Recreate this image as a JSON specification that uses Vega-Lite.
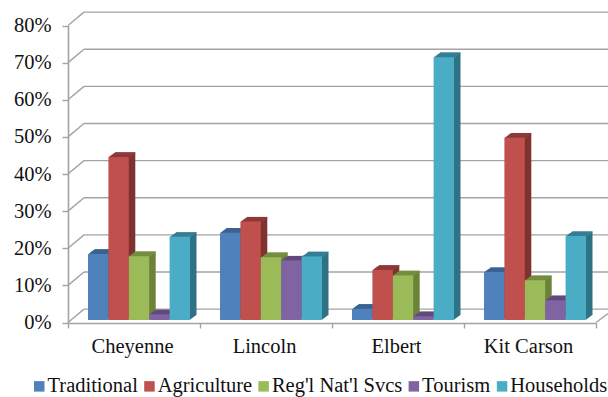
{
"$schema":"https://vega.github.io/schema/vega-lite/v6.json",
"width":608,"height":397,"padding":0,"autosize":{"type":"none"},"background":"#ffffff",
"config":{"view":{"stroke":null},"font":"Liberation Serif"},
"datasets":{
"shares":[
{"county":"Cheyenne","sector":"Traditional","share":17.8},{"county":"Cheyenne","sector":"Agriculture","share":43.9},{"county":"Cheyenne","sector":"Reg'l Nat'l Svcs","share":17.2},{"county":"Cheyenne","sector":"Tourism","share":1.5},{"county":"Cheyenne","sector":"Households","share":22.4},
{"county":"Lincoln","sector":"Traditional","share":23.5},{"county":"Lincoln","sector":"Agriculture","share":26.5},{"county":"Lincoln","sector":"Reg'l Nat'l Svcs","share":16.9},{"county":"Lincoln","sector":"Tourism","share":16},{"county":"Lincoln","sector":"Households","share":17.1},
{"county":"Elbert","sector":"Traditional","share":3},{"county":"Elbert","sector":"Agriculture","share":13.5},{"county":"Elbert","sector":"Reg'l Nat'l Svcs","share":12},{"county":"Elbert","sector":"Tourism","share":1},{"county":"Elbert","sector":"Households","share":70.8},
{"county":"Kit Carson","sector":"Traditional","share":12.9},{"county":"Kit Carson","sector":"Agriculture","share":49.1},{"county":"Kit Carson","sector":"Reg'l Nat'l Svcs","share":10.7},{"county":"Kit Carson","sector":"Tourism","share":5.3},{"county":"Kit Carson","sector":"Households","share":22.6}
],
"tiers":[{"tier":0,"lift":3.6},{"tier":10,"lift":13.6},{"tier":20,"lift":23.6},{"tier":30,"lift":33.6},{"tier":40,"lift":43.6},{"tier":50,"lift":53.6},{"tier":60,"lift":63.6},{"tier":70,"lift":73.6},{"tier":80,"lift":83.6}]
},
"resolve":{"scale":{"x":"independent","y":"independent","color":"independent"},"axis":{"x":"independent","y":"independent"}},
"layer":[
{"data":{"name":"tiers"},"mark":{"type":"rule","color":"#a3a3a3","strokeWidth":1.4},
 "encoding":{"x":{"datum":0,"type":"quantitative","scale":{"domain":[0,540],"range":[68,608]},"axis":null},"x2":{"datum":16},
 "y":{"field":"tier","type":"quantitative","scale":{"domain":[0,80],"range":[322.5,25.5]},
  "axis":{"orient":"left","offset":-68,"title":null,"values":[0,10,20,30,40,50,60,70,80],"labelExpr":"datum.value+'%'","grid":false,"domainColor":"#a3a3a3","domainWidth":1.6,"tickColor":"#a3a3a3","tickWidth":1.4,"tickSize":6,"labelFontSize":20.5,"labelColor":"#111111","labelPadding":11,"labelFont":"Liberation Serif"}},
 "y2":{"field":"lift"}}},
{"data":{"name":"tiers"},"mark":{"type":"rule","color":"#a3a3a3","strokeWidth":1.4},
 "encoding":{"x":{"datum":16,"type":"quantitative","scale":{"domain":[0,540],"range":[68,608]},"axis":null},"x2":{"datum":540},
 "y":{"field":"lift","type":"quantitative","scale":{"domain":[0,80],"range":[322.5,25.5]},"axis":null}}},
{"data":{"values":[{"a":0,"b":2.4}]},"mark":{"type":"rule","color":"#a3a3a3","strokeWidth":1.4},
 "encoding":{"x":{"datum":528,"type":"quantitative","scale":{"domain":[0,540],"range":[68,608]},"axis":null},"x2":{"datum":540},
 "y":{"field":"a","type":"quantitative","scale":{"domain":[0,80],"range":[322.5,25.5]},"axis":null},"y2":{"field":"b"}}},
{"data":{"name":"shares"},"mark":{"type":"bar","opacity":0},
 "encoding":{"x":{"field":"county","type":"nominal","sort":null,"scale":{"domain":["Cheyenne","Lincoln","Elbert","Kit Carson"],"range":[68,596],"paddingInner":0,"paddingOuter":0},
  "axis":{"orient":"bottom","offset":-74,"title":null,"tickBand":"extent","labelAngle":0,"labelOffset":-2,"domainColor":"#a3a3a3","domainWidth":1.6,"tickColor":"#a3a3a3","tickWidth":1.4,"tickSize":5,"labelFontSize":20.5,"labelColor":"#111111","labelPadding":8,"labelFont":"Liberation Serif"}},
 "y":{"datum":0,"type":"quantitative","scale":{"domain":[0,80],"range":[322.5,25.5]},"axis":null}}},

{"data":{"name":"shares"},"encoding":{
 "xOffset":{"field":"sector","type":"nominal","sort":null,"scale":{"domain":["Traditional","Agriculture","Reg'l Nat'l Svcs","Tourism","Households"],"range":[20,122]}}},
 "resolve":{"scale":{"x":"independent","y":"independent","color":"independent"},"axis":{"x":"independent","y":"independent"}},
 "layer":[
 {"mark":{"type":"bar"},"encoding":{
  "x":{"field":"county","type":"nominal","sort":null,"scale":{"domain":["Cheyenne","Lincoln","Elbert","Kit Carson"],"range":[74.5,602.5],"paddingInner":0,"paddingOuter":0},"axis":null},
  "y":{"field":"share","type":"quantitative","stack":null,"scale":{"domain":[0,80],"range":[315.3,18.3]},"axis":null},
  "color":{"field":"sector","type":"nominal","sort":null,"legend":null,"scale":{"domain":["Traditional","Agriculture","Reg'l Nat'l Svcs","Tourism","Households"],"range":["#385d8a","#7f3230","#6b8339","#594573","#2f7286"]}}}},
 {"mark":{"type":"tick","orient":"horizontal","size":20.4,"thickness":1.5,"yOffset":0.7},"encoding":{
  "x":{"field":"county","type":"nominal","sort":null,"scale":{"domain":["Cheyenne","Lincoln","Elbert","Kit Carson"],"range":[74.5,602.5],"paddingInner":0,"paddingOuter":0},"axis":null},
  "y":{"field":"share","type":"quantitative","stack":null,"scale":{"domain":[0,80],"range":[315.3,18.3]},"axis":null},
  "color":{"field":"sector","type":"nominal","sort":null,"legend":null,"scale":{"domain":["Traditional","Agriculture","Reg'l Nat'l Svcs","Tourism","Households"],"range":["#3e6797","#963f3c","#7a9546","#664f82","#3a889e"]}}}},
 {"mark":{"type":"bar"},"encoding":{
  "x":{"field":"county","type":"nominal","sort":null,"scale":{"domain":["Cheyenne","Lincoln","Elbert","Kit Carson"],"range":[73.4,601.4],"paddingInner":0,"paddingOuter":0},"axis":null},
  "y":{"field":"share","type":"quantitative","stack":null,"scale":{"domain":[0,80],"range":[316.1,19.1]},"axis":null},
  "color":{"field":"sector","type":"nominal","sort":null,"legend":null,"scale":{"domain":["Traditional","Agriculture","Reg'l Nat'l Svcs","Tourism","Households"],"range":["#385d8a","#7f3230","#6b8339","#594573","#2f7286"]}}}},
 {"mark":{"type":"tick","orient":"horizontal","size":20.4,"thickness":1.5,"yOffset":0.7},"encoding":{
  "x":{"field":"county","type":"nominal","sort":null,"scale":{"domain":["Cheyenne","Lincoln","Elbert","Kit Carson"],"range":[73.4,601.4],"paddingInner":0,"paddingOuter":0},"axis":null},
  "y":{"field":"share","type":"quantitative","stack":null,"scale":{"domain":[0,80],"range":[316.1,19.1]},"axis":null},
  "color":{"field":"sector","type":"nominal","sort":null,"legend":null,"scale":{"domain":["Traditional","Agriculture","Reg'l Nat'l Svcs","Tourism","Households"],"range":["#3e6797","#963f3c","#7a9546","#664f82","#3a889e"]}}}},
 {"mark":{"type":"bar"},"encoding":{
  "x":{"field":"county","type":"nominal","sort":null,"scale":{"domain":["Cheyenne","Lincoln","Elbert","Kit Carson"],"range":[72.3,600.3],"paddingInner":0,"paddingOuter":0},"axis":null},
  "y":{"field":"share","type":"quantitative","stack":null,"scale":{"domain":[0,80],"range":[316.9,19.9]},"axis":null},
  "color":{"field":"sector","type":"nominal","sort":null,"legend":null,"scale":{"domain":["Traditional","Agriculture","Reg'l Nat'l Svcs","Tourism","Households"],"range":["#385d8a","#7f3230","#6b8339","#594573","#2f7286"]}}}},
 {"mark":{"type":"tick","orient":"horizontal","size":20.4,"thickness":1.5,"yOffset":0.7},"encoding":{
  "x":{"field":"county","type":"nominal","sort":null,"scale":{"domain":["Cheyenne","Lincoln","Elbert","Kit Carson"],"range":[72.3,600.3],"paddingInner":0,"paddingOuter":0},"axis":null},
  "y":{"field":"share","type":"quantitative","stack":null,"scale":{"domain":[0,80],"range":[316.9,19.9]},"axis":null},
  "color":{"field":"sector","type":"nominal","sort":null,"legend":null,"scale":{"domain":["Traditional","Agriculture","Reg'l Nat'l Svcs","Tourism","Households"],"range":["#3e6797","#963f3c","#7a9546","#664f82","#3a889e"]}}}},
 {"mark":{"type":"bar"},"encoding":{
  "x":{"field":"county","type":"nominal","sort":null,"scale":{"domain":["Cheyenne","Lincoln","Elbert","Kit Carson"],"range":[71.2,599.2],"paddingInner":0,"paddingOuter":0},"axis":null},
  "y":{"field":"share","type":"quantitative","stack":null,"scale":{"domain":[0,80],"range":[317.7,20.7]},"axis":null},
  "color":{"field":"sector","type":"nominal","sort":null,"legend":null,"scale":{"domain":["Traditional","Agriculture","Reg'l Nat'l Svcs","Tourism","Households"],"range":["#385d8a","#7f3230","#6b8339","#594573","#2f7286"]}}}},
 {"mark":{"type":"tick","orient":"horizontal","size":20.4,"thickness":1.5,"yOffset":0.7},"encoding":{
  "x":{"field":"county","type":"nominal","sort":null,"scale":{"domain":["Cheyenne","Lincoln","Elbert","Kit Carson"],"range":[71.2,599.2],"paddingInner":0,"paddingOuter":0},"axis":null},
  "y":{"field":"share","type":"quantitative","stack":null,"scale":{"domain":[0,80],"range":[317.7,20.7]},"axis":null},
  "color":{"field":"sector","type":"nominal","sort":null,"legend":null,"scale":{"domain":["Traditional","Agriculture","Reg'l Nat'l Svcs","Tourism","Households"],"range":["#3e6797","#963f3c","#7a9546","#664f82","#3a889e"]}}}},
 {"mark":{"type":"bar"},"encoding":{
  "x":{"field":"county","type":"nominal","sort":null,"scale":{"domain":["Cheyenne","Lincoln","Elbert","Kit Carson"],"range":[70.1,598.1],"paddingInner":0,"paddingOuter":0},"axis":null},
  "y":{"field":"share","type":"quantitative","stack":null,"scale":{"domain":[0,80],"range":[318.5,21.5]},"axis":null},
  "color":{"field":"sector","type":"nominal","sort":null,"legend":null,"scale":{"domain":["Traditional","Agriculture","Reg'l Nat'l Svcs","Tourism","Households"],"range":["#385d8a","#7f3230","#6b8339","#594573","#2f7286"]}}}},
 {"mark":{"type":"tick","orient":"horizontal","size":20.4,"thickness":1.5,"yOffset":0.7},"encoding":{
  "x":{"field":"county","type":"nominal","sort":null,"scale":{"domain":["Cheyenne","Lincoln","Elbert","Kit Carson"],"range":[70.1,598.1],"paddingInner":0,"paddingOuter":0},"axis":null},
  "y":{"field":"share","type":"quantitative","stack":null,"scale":{"domain":[0,80],"range":[318.5,21.5]},"axis":null},
  "color":{"field":"sector","type":"nominal","sort":null,"legend":null,"scale":{"domain":["Traditional","Agriculture","Reg'l Nat'l Svcs","Tourism","Households"],"range":["#3e6797","#963f3c","#7a9546","#664f82","#3a889e"]}}}},
 {"mark":{"type":"bar"},"encoding":{
  "x":{"field":"county","type":"nominal","sort":null,"scale":{"domain":["Cheyenne","Lincoln","Elbert","Kit Carson"],"range":[69,597],"paddingInner":0,"paddingOuter":0},"axis":null},
  "y":{"field":"share","type":"quantitative","stack":null,"scale":{"domain":[0,80],"range":[319.3,22.3]},"axis":null},
  "color":{"field":"sector","type":"nominal","sort":null,"legend":null,"scale":{"domain":["Traditional","Agriculture","Reg'l Nat'l Svcs","Tourism","Households"],"range":["#385d8a","#7f3230","#6b8339","#594573","#2f7286"]}}}},
 {"mark":{"type":"tick","orient":"horizontal","size":20.4,"thickness":1.5,"yOffset":0.7},"encoding":{
  "x":{"field":"county","type":"nominal","sort":null,"scale":{"domain":["Cheyenne","Lincoln","Elbert","Kit Carson"],"range":[69,597],"paddingInner":0,"paddingOuter":0},"axis":null},
  "y":{"field":"share","type":"quantitative","stack":null,"scale":{"domain":[0,80],"range":[319.3,22.3]},"axis":null},
  "color":{"field":"sector","type":"nominal","sort":null,"legend":null,"scale":{"domain":["Traditional","Agriculture","Reg'l Nat'l Svcs","Tourism","Households"],"range":["#3e6797","#963f3c","#7a9546","#664f82","#3a889e"]}}}},
 {"mark":{"type":"bar"},"encoding":{
  "x":{"field":"county","type":"nominal","sort":null,"scale":{"domain":["Cheyenne","Lincoln","Elbert","Kit Carson"],"range":[68,596],"paddingInner":0,"paddingOuter":0},"axis":null},
  "y":{"field":"share","type":"quantitative","stack":null,"scale":{"domain":[0,80],"range":[320,23]},"axis":null},
  "color":{"field":"sector","type":"nominal","sort":null,"scale":{"domain":["Traditional","Agriculture","Reg'l Nat'l Svcs","Tourism","Households"],"range":["#4f81bd","#c0504d","#9bbb59","#8064a2","#4bacc6"]},
  "legend":{"title":null,"orient":"none","legendX":29,"legendY":376,"direction":"horizontal","columns":5,"symbolType":"square","symbolSize":110,"symbolStrokeWidth":0,"symbolOpacity":1,"labelFontSize":20.5,"labelColor":"#111111","labelFont":"Liberation Serif","labelLimit":200,"columnPadding":1.2,"labelOffset":-2}}}}
 ]}
]
}
